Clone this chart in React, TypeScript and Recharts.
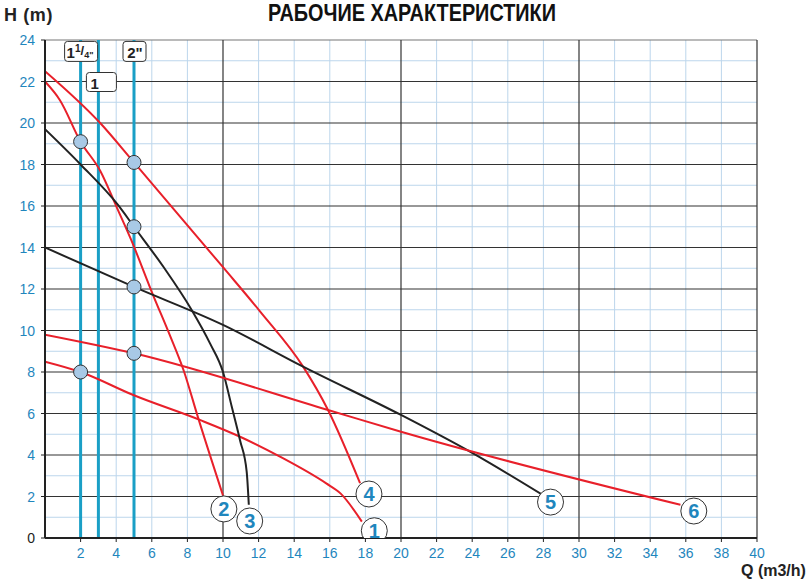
import {
  ComposedChart,
  Line,
  Scatter,
  XAxis,
  YAxis,
  ReferenceLine,
  ReferenceDot,
} from 'recharts';

// pump curves: flow Q (m3/h) and head H (m)
const curve1Q = [0, 2, 4.96, 8.7, 10.96, 13.2, 15.8, 16.6, 17.8];
const curve1H = [8.5, 8.0, 6.89, 5.69, 4.88, 3.92, 2.63, 2.15, 0.79];
const curve2Q = [0, 0.84, 2, 3.1, 4.05, 4.8, 6.1, 7.0, 7.8, 8.6, 10];
const curve2H = [22, 21.1, 19.1, 17.7, 15.9, 14.45, 11.65, 9.8, 8.05, 5.8, 2.05];
const curve3Q = [0, 2, 4.1, 5, 6.65, 8.24, 9.27, 10, 10.5, 10.96, 11.33, 11.45];
const curve3H = [19.7, 18.0, 16.05, 15, 13.07, 10.99, 9.38, 8.0, 6.3, 4.7, 3.2, 1.6];
const curve4Q = [0, 3.1, 5, 10, 12.1, 14.5, 15.9, 17.7];
const curve4H = [22.5, 20, 18.1, 13.05, 10.9, 8.26, 6.17, 2.64];
const curve5Q = [0, 5, 10, 14.5, 20, 24, 28];
const curve5H = [14, 12.1, 10.27, 8.26, 5.93, 4.1, 2.05];
const curve6Q = [0, 5, 15.9, 20, 35.7];
const curve6H = [9.8, 8.9, 6.17, 5.12, 1.6];

// operating points on the pipe lines
const pointQ = [2, 2, 5, 5, 5, 5];
const pointH = [19.1, 8, 18.1, 15, 12.1, 8.9];

// curve number badges
const badgeText = ['1', '2', '3', '4', '5', '6'];
const badgeQ = [18.5, 10.05, 11.5, 18.2, 28.4, 36.45];
const badgeH = [0.35, 1.4, 0.82, 2.12, 1.73, 1.3];

// pipe diameter lines
const pipeQ = [2, 3, 5];

const xTicks = [2, 4, 6, 8, 10, 12, 14, 16, 18, 20, 22, 24, 26, 28, 30, 32, 34, 36, 38, 40];
const yTicks = [0, 2, 4, 6, 8, 10, 12, 14, 16, 18, 20, 22, 24];
const minorX = [2, 4, 6, 8, 12, 14, 16, 18, 22, 24, 26, 28, 32, 34, 36, 38];
const majorX = [10, 20, 30, 40];
const minorY = [1, 3, 5, 7, 9, 11, 13, 15, 17, 19, 21, 23];
const majorY = [2, 4, 6, 8, 10, 12, 14, 16, 18, 20, 22];

const RED = '#e8202a';
const BLACK = '#222222';
const BLUE_TEXT = '#1f86bd';
const PIPE = '#1a9fc6';
const FONT = '"Liberation Sans", Arial, sans-serif';

const toRows = (q: number[], h: number[]) => q.map((v, i) => ({ q: v, h: h[i] }));

const curves = [
  { key: 'c1', data: toRows(curve1Q, curve1H), color: RED },
  { key: 'c2', data: toRows(curve2Q, curve2H), color: RED },
  { key: 'c3', data: toRows(curve3Q, curve3H), color: BLACK },
  { key: 'c4', data: toRows(curve4Q, curve4H), color: RED },
  { key: 'c5', data: toRows(curve5Q, curve5H), color: BLACK },
  { key: 'c6', data: toRows(curve6Q, curve6H), color: RED },
];

const points = toRows(pointQ, pointH);
const badges = badgeQ.map((q, i) => ({ q, h: badgeH[i], label: badgeText[i] }));

const YTick = (props: any) => {
  const { x, y, payload } = props;
  return (
    <text
      x={x - 4}
      y={y + 5}
      textAnchor="end"
      fontSize={14}
      fontFamily={FONT}
      fill={payload.value === 0 ? BLACK : BLUE_TEXT}
    >
      {payload.value}
    </text>
  );
};

const XTick = (props: any) => {
  const { x, y, payload } = props;
  return (
    <text x={x} y={y + 14} textAnchor="middle" fontSize={14} fontFamily={FONT} fill={BLUE_TEXT}>
      {payload.value}
    </text>
  );
};

const PointDot = (props: any) => {
  const { cx, cy } = props;
  return <circle cx={cx} cy={cy} r={7} fill="#a8c9e6" stroke="#333" strokeWidth={1} />;
};

const Badge = (props: any) => {
  const { cx, cy, payload } = props;
  return (
    <g>
      <circle cx={cx} cy={cy} r={13} fill="#fff" stroke="#333" strokeWidth={1} />
      <text
        x={cx}
        y={cy + 7}
        textAnchor="middle"
        fontSize={20}
        fontWeight="bold"
        fontFamily={FONT}
        fill={BLUE_TEXT}
      >
        {payload.label}
      </text>
    </g>
  );
};

const PipeTag = (props: any) => {
  const { cx, cy, kind } = props;
  if (kind === 'a') {
    return (
      <g>
        <rect x={cx - 16} y={cy - 10} width={33} height={20} rx={3} fill="#fff" stroke="#333" />
        <text x={cx - 14} y={cy + 7} fontSize={15} fontWeight="bold" fontFamily={FONT} fill={BLACK}>
          1
          <tspan fontSize={10} dy={-6}>1</tspan>
          <tspan fontSize={13} dy={3}>/</tspan>
          <tspan fontSize={9} dy={3}>4"</tspan>
        </text>
      </g>
    );
  }
  if (kind === 'b') {
    return (
      <g>
        <rect x={cx - 11} y={cy - 10} width={23} height={20} rx={3} fill="#fff" stroke="#333" />
        <text x={cx + 1} y={cy + 7} textAnchor="middle" fontSize={15} fontWeight="bold" fontFamily={FONT} fill={BLACK}>
          2"
        </text>
      </g>
    );
  }
  return (
    <g>
      <rect x={cx - 12} y={cy - 9} width={30} height={19} rx={3} fill="#fff" stroke="#333" />
      <text x={cx - 8} y={cy + 7} fontSize={15} fontWeight="bold" fontFamily={FONT} fill={BLACK}>
        1
      </text>
    </g>
  );
};

export default function App() {
  return (
    <div style={{ position: 'absolute', left: 0, top: 0, width: 810, height: 584, background: '#fff' }}>
      <svg width={810} height={30} style={{ position: 'absolute', left: 0, top: 0 }}>
        <text
          x={268}
          y={21}
          textLength={288}
          lengthAdjust="spacingAndGlyphs"
          fontFamily={FONT}
          fontWeight="bold"
          fontSize={23}
          fill="#111"
        >
          РАБОЧИЕ ХАРАКТЕРИСТИКИ
        </text>
      </svg>
      <div
        style={{
          position: 'absolute',
          left: 4,
          top: 5,
          fontFamily: FONT,
          fontWeight: 'bold',
          fontSize: 18,
          letterSpacing: 0.6,
          color: '#222',
        }}
      >
        H (m)
      </div>
      <div
        style={{
          position: 'absolute',
          left: 741,
          top: 562,
          fontFamily: FONT,
          fontWeight: 'bold',
          fontSize: 16,
          color: '#222',
        }}
      >
        Q (m3/h)
      </div>
      <ComposedChart
        width={810}
        height={584}
        margin={{ top: 40, right: 53, left: 0, bottom: 0 }}
        style={{ position: 'absolute', left: 0, top: 0 }}
      >
        <XAxis
          type="number"
          dataKey="q"
          domain={[0, 40]}
          ticks={xTicks}
          interval={0}
          height={46}
          allowDataOverflow
          axisLine={{ stroke: BLACK, strokeWidth: 2 }}
          tickLine={{ stroke: BLACK }}
          tickSize={4}
          tick={<XTick />}
        />
        <YAxis
          type="number"
          dataKey="h"
          domain={[0, 24]}
          ticks={yTicks}
          interval={0}
          width={45}
          allowDataOverflow
          axisLine={{ stroke: BLACK, strokeWidth: 2 }}
          tickLine={{ stroke: BLACK }}
          tickSize={4}
          tick={<YTick />}
        />
        {minorX.map((v) => (
          <ReferenceLine key={`mx${v}`} x={v} stroke="#bcd6ec" strokeWidth={1} />
        ))}
        {minorY.map((v) => (
          <ReferenceLine key={`my${v}`} y={v} stroke="#bcd6ec" strokeWidth={1} />
        ))}
        {majorY.map((v) => (
          <ReferenceLine key={`My${v}`} y={v} stroke="#333" strokeWidth={1.2} />
        ))}
        <ReferenceLine y={24} stroke="#777" strokeWidth={1.2} />
        {majorX.map((v) => (
          <ReferenceLine key={`Mx${v}`} x={v} stroke="#333" strokeWidth={1.2} />
        ))}
        {pipeQ.map((v) => (
          <ReferenceLine key={`p${v}`} x={v} stroke={PIPE} strokeWidth={3} />
        ))}
        {curves.map((c) => (
          <Line
            key={c.key}
            data={c.data}
            dataKey="h"
            type="monotone"
            stroke={c.color}
            strokeWidth={2}
            dot={false}
            activeDot={false}
            isAnimationActive={false}
          />
        ))}
        <Scatter data={points} dataKey="h" shape={<PointDot />} isAnimationActive={false} />
        <Scatter data={badges} dataKey="h" shape={<Badge />} isAnimationActive={false} />
        <ReferenceDot x={2} y={23.45} r={0} shape={<PipeTag kind="a" />} />
        <ReferenceDot x={5} y={23.45} r={0} shape={<PipeTag kind="b" />} />
        <ReferenceDot x={3} y={22} r={0} shape={<PipeTag kind="c" />} />
      </ComposedChart>
    </div>
  );
}
